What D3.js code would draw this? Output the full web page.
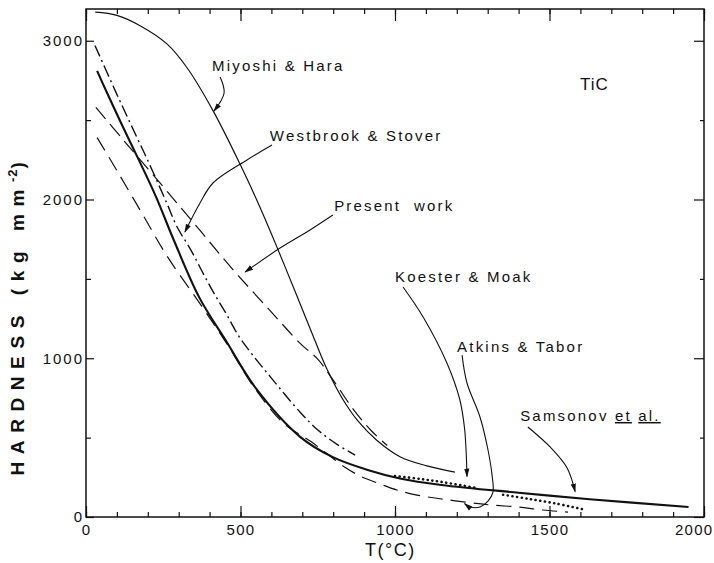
<!DOCTYPE html>
<html>
<head>
<meta charset="utf-8">
<script src="https://cdn.jsdelivr.net/npm/d3@7"></script>
<style>
body { margin: 0; background: #fff; }
text { font-family: "Liberation Sans", Arial, Helvetica, sans-serif; fill: #111; }
</style>
</head>
<body>
<div id="chart"></div>
<script>
/////////////////////////////////////////////////////////////////////
/////////////////////////  data  ////////////////////////////////////
/////////////////////////////////////////////////////////////////////
// Miyoshi & Hara (thin solid)
var miyoshiT = [30, 100, 175, 262, 327, 411, 498, 553, 618, 683, 735, 780, 830, 880, 940, 1016, 1103, 1194];
var miyoshiH = [3180, 3160, 3095, 2980, 2830, 2560, 2225, 1995, 1700, 1390, 1140, 930, 745, 605, 485, 380, 322, 283];
// Samsonov et al. (heavy solid)
var samsonovT = [36, 65, 120, 172, 227, 285, 366, 453, 550, 693, 799, 909, 1016, 1150, 1400, 1630, 1950];
var samsonovH = [2810, 2685, 2455, 2245, 2015, 1740, 1385, 1110, 810, 505, 377, 298, 243, 202, 153, 112, 63];
// Westbrook & Stover (dash-dot)
var westbrookT = [29, 97, 129, 165, 197, 262, 294, 340, 379, 414, 453, 495, 540, 600, 693, 751, 816, 871];
var westbrookH = [2970, 2675, 2540, 2390, 2258, 1975, 1830, 1680, 1535, 1410, 1283, 1138, 1019, 875, 660, 547, 453, 390];
// Present work (dashed)
var presentT = [32, 123, 250, 369, 472, 586, 693, 750, 800, 870, 925, 975];
var presentH = [2580, 2370, 2080, 1805, 1566, 1321, 1094, 994, 862, 665, 540, 450];
// Atkins & Tabor (dashed, lower)
var atkinsT = [36, 100, 180, 265, 366, 453, 550, 640, 728, 780, 838, 893, 950, 1006, 1071, 1146, 1250, 1314, 1398, 1479, 1560];
var atkinsH = [2390, 2182, 1917, 1635, 1352, 1100, 800, 590, 475, 398, 314, 252, 210, 170, 138, 115, 88, 75, 63, 44, 31];
// Koester & Moak (dotted, broken near 1300)
var koesterT = [1000, 1080, 1160, 1265, null, 1350, 1430, 1520, 1605];
var koesterH = [258, 240, 218, 182, null, 140, 115, 85, 50];

var xTicks = [0, 500, 1000, 1500, 2000];
var xMinor = d3.range(0, 2001, 100);
var yTicks = [0, 1000, 2000, 3000];
var yMinor = [500, 1500, 2500];

// annotation text (data space anchors)
var labelText = ["Miyoshi & Hara", "Westbrook & Stover", "Present  work", "Koester & Moak", "Atkins & Tabor"];
var labelT = [408, 595, 803, 1000, 1201];
var labelH = [2809, 2369, 1928, 1480, 1039];

// leader arrows, [T, H] pairs
var arrowMiyoshi = [[434, 2772], [447, 2671], [414, 2557]];
var arrowWestbrook = [[602, 2343], [521, 2249], [411, 2104], [369, 1978], [320, 1795]];
var arrowPresent = [[799, 1902], [725, 1808], [628, 1694], [515, 1543]];
var arrowKoester = [[1026, 1449], [1091, 1260], [1168, 970], [1210, 737], [1225, 560], [1230, 420], [1233, 255]];
var arrowAtkins = [[1217, 1020], [1233, 844], [1275, 630], [1301, 422], [1314, 265], [1317, 157], [1301, 100], [1275, 63], [1243, 63], [1225, 84]];
var arrowSamsonov = [[1430, 567], [1502, 441], [1557, 309], [1583, 160]];

/////////////////////////////////////////////////////////////////////
/////////////////////////global variables/////////////////////////////
////////////////////////////////////////////////////////////////////
var margin = {top: 9, right: 10, left: 86, bottom: 46},
    wdim = 714,
    hdim = 563,
    width = wdim - margin.left - margin.right,
    height = hdim - margin.top - margin.bottom;
var canvas, x, y;

function build_canvas() {
  var svg = d3.select("#chart").append("svg")
    .attr("width", wdim)
    .attr("height", hdim);
  svg.append("defs").append("marker")
    .attr("id", "head")
    .attr("markerUnits", "userSpaceOnUse")
    .attr("viewBox", "0 -4 10 8")
    .attr("refX", 9).attr("refY", 0)
    .attr("markerWidth", 9).attr("markerHeight", 7)
    .attr("orient", "auto")
    .append("path").attr("d", "M0,-3L10,0L0,3Z").attr("fill", "#111");
  return svg.append("g").attr("transform", "translate(" + margin.left + "," + margin.top + ")");
}

/////////////////////////////////////////////////////////////////
///////////////////// axes and frame ////////////////////////////
/////////////////////////////////////////////////////////////////
function draw_axes() {
  var clean = function(g) { g.select(".domain").remove(); g.selectAll("line").attr("stroke", "#111").attr("stroke-width", 1.2); };

  canvas.append("g").attr("transform", "translate(0," + height + ")")
    .call(d3.axisBottom(x).tickValues(xMinor).tickSize(-5).tickFormat("")).call(clean);
  var xb = canvas.append("g").attr("transform", "translate(0," + height + ")")
    .call(d3.axisBottom(x).tickValues(xTicks).tickSize(-11).tickPadding(7).tickFormat(d3.format("d")))
    .call(clean);
  xb.selectAll("text").attr("font-size", 15).attr("letter-spacing", 1.3).attr("fill", "#111");
  // last label would run off the page edge, pull it in
  xb.selectAll("text").filter(function(d) { return d === 2000; })
    .attr("text-anchor", "end").attr("dx", 9);

  canvas.append("g")
    .call(d3.axisTop(x).tickValues(xMinor).tickSize(-5).tickFormat("")).call(clean);
  canvas.append("g")
    .call(d3.axisTop(x).tickValues(xTicks).tickSize(-12).tickFormat("")).call(clean);

  canvas.append("g")
    .call(d3.axisLeft(y).tickValues(yMinor).tickSize(-5).tickFormat("")).call(clean);
  canvas.append("g")
    .call(d3.axisLeft(y).tickValues(yTicks).tickSize(-8).tickPadding(2).tickFormat(d3.format("d")))
    .call(clean)
    .selectAll("text").attr("font-size", 15).attr("letter-spacing", 2).attr("fill", "#111");

  canvas.append("g").attr("transform", "translate(" + width + ",0)")
    .call(d3.axisRight(y).tickValues(yMinor).tickSize(-4).tickFormat("")).call(clean);
  canvas.append("g").attr("transform", "translate(" + width + ",0)")
    .call(d3.axisRight(y).tickValues(yTicks).tickSize(-10).tickFormat("")).call(clean);

  canvas.append("rect")
    .attr("width", width).attr("height", height)
    .attr("fill", "none").attr("stroke", "#111").attr("stroke-width", 1.5);

  // axis titles
  canvas.append("text")
    .attr("x", x(985)).attr("y", height + 39)
    .attr("text-anchor", "middle")
    .attr("font-size", 18).attr("letter-spacing", 1.5)
    .text("T(°C)");

  var yl = canvas.append("text")
    .attr("transform", "translate(" + (-62) + "," + 306 + ") rotate(-90)")
    .attr("text-anchor", "middle")
    .attr("font-size", 19).attr("font-weight", "bold").attr("letter-spacing", 7.6);
  yl.append("tspan").text("HARDNESS (kg mm");
  yl.append("tspan").attr("baseline-shift", "super").attr("font-size", 13).attr("letter-spacing", 1).text("-2");
  yl.append("tspan").text(")");
}

/////////////////////////////////////////////////////////////////
///////////////////// curves /////////////////////////////////////
/////////////////////////////////////////////////////////////////
function draw_curve(ts, hs, dash, sw, cap) {
  var pts = ts.map(function(t, i) { return [t, hs[i]]; });
  var line = d3.line()
    .defined(function(d) { return d[0] != null; })
    .x(function(d) { return x(d[0]); })
    .y(function(d) { return y(d[1]); })
    .curve(d3.curveCatmullRom.alpha(0.5));
  canvas.append("path")
    .attr("d", line(pts))
    .attr("fill", "none")
    .attr("stroke", "#111")
    .attr("stroke-width", sw)
    .attr("stroke-dasharray", dash)
    .attr("stroke-linecap", cap || "butt");
}

function draw_arrow(pts) {
  var line = d3.line()
    .x(function(d) { return x(d[0]); })
    .y(function(d) { return y(d[1]); })
    .curve(d3.curveCatmullRom.alpha(0.5));
  canvas.append("path")
    .attr("d", line(pts))
    .attr("fill", "none")
    .attr("stroke", "#111")
    .attr("stroke-width", 1.1)
    .attr("marker-end", "url(#head)");
}

function draw_labels() {
  labelText.forEach(function(s, i) {
    canvas.append("text")
      .attr("x", x(labelT[i])).attr("y", y(labelH[i]))
      .attr("font-size", 15).attr("letter-spacing", 2.2)
      .style("white-space", "pre")
      .text(s);
  });
  var sam = canvas.append("text")
    .attr("x", x(1405)).attr("y", y(605))
    .attr("font-size", 15).attr("letter-spacing", 2.2)
    .style("white-space", "pre");
  sam.append("tspan").text("Samsonov ");
  sam.append("tspan").attr("text-decoration", "underline").text("et");
  sam.append("tspan").text(" ");
  sam.append("tspan").attr("text-decoration", "underline").text("al.");

  canvas.append("text")
    .attr("x", x(1599)).attr("y", y(2690))
    .attr("font-size", 17).attr("letter-spacing", 1)
    .text("TiC");
}

function main() {
  canvas = build_canvas();
  x = d3.scaleLinear().domain([0, 2000]).range([0, width]);
  y = d3.scaleLinear().domain([0, 3200]).range([height, 0]);

  draw_axes();

  draw_curve(miyoshiT, miyoshiH, null, 1.2);
  draw_curve(samsonovT, samsonovH, null, 2.1);
  draw_curve(westbrookT, westbrookH, "12,4,2,4", 1.4);
  draw_curve(presentT, presentH, "15,7", 1.2);
  draw_curve(atkinsT, atkinsH, "15,8", 1.2);
  draw_curve(koesterT, koesterH, "0.1,4.6", 2.6, "round");

  [arrowMiyoshi, arrowWestbrook, arrowPresent, arrowKoester, arrowAtkins, arrowSamsonov].forEach(draw_arrow);
  draw_labels();
}

main();
</script>
</body>
</html>
